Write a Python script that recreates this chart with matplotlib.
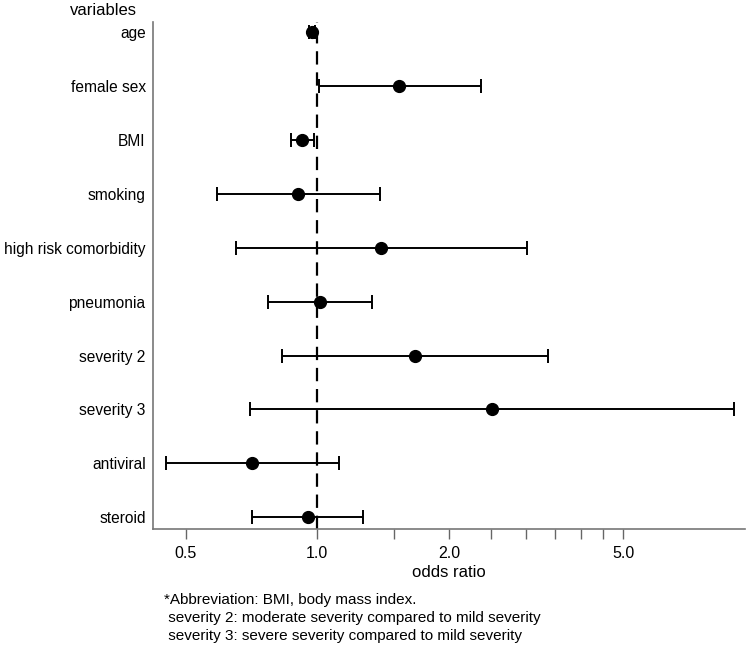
import numpy as np
import matplotlib.pyplot as plt
from matplotlib.ticker import FixedLocator, NullFormatter

plt.rcParams['font.family'] = ['Liberation Sans', 'DejaVu Sans']

variables = ["age", "female sex", "BMI", "smoking", "high risk comorbidity",
             "pneumonia", "severity 2", "severity 3", "antiviral", "steroid"]
odds = [0.97, 1.54, 0.92, 0.905, 1.40, 1.015, 1.67, 2.51, 0.71, 0.95]
ci_low = [0.955, 1.01, 0.87, 0.59, 0.65, 0.77, 0.83, 0.70, 0.45, 0.71]
ci_high = [0.99, 2.37, 0.98, 1.39, 3.02, 1.33, 3.37, 8.96, 1.12, 1.27]

major_ticks = [0.5, 1.0, 2.0, 5.0]
minor_ticks = [1.5, 2.5, 3.0, 3.5, 4.0, 4.5]

fig = plt.figure(figsize=(7.48, 6.46), dpi=100)
ax = fig.add_axes([0.204, 0.181, 0.792, 0.785])

y = np.arange(len(variables))
odds = np.array(odds)
err = [odds - np.array(ci_low), np.array(ci_high) - odds]

ax.axvline(1.0, color='k', lw=1.6, ls=(0, (6, 3.5)), zorder=1)
ax.errorbar(odds, y, xerr=err, fmt='o', color='k', ms=8.5,
            elinewidth=1.4, capsize=5, capthick=1.4, zorder=3)

ax.set_xscale('log')
ax.set_xlim(0.42, 9.5)
ax.set_ylim(len(variables) - 1 + 0.22, -0.19)
ax.xaxis.set_major_locator(FixedLocator(major_ticks))
ax.xaxis.set_minor_locator(FixedLocator(minor_ticks))
ax.xaxis.set_minor_formatter(NullFormatter())
ax.set_xticklabels(["%.1f" % t for t in major_ticks])
ax.tick_params(axis='x', which='both', length=7, width=1, color='#666666',
               labelsize=11.5, pad=5)
ax.set_yticks(y)
ax.set_yticklabels(variables)
ax.tick_params(axis='y', length=0, labelsize=11.2, pad=5)

for s in ['top', 'right']:
    ax.spines[s].set_visible(False)
for s in ['left', 'bottom']:
    ax.spines[s].set_color('#777777')
    ax.spines[s].set_linewidth(1.2)

ax.set_xlabel("odds ratio", fontsize=12, labelpad=3)
fig.text(0.094, 0.984, "variables", fontsize=12, va='center', ha='left')

fig.text(0.219, 0.071, "*Abbreviation: BMI, body mass index.", fontsize=11, va='center')
fig.text(0.219, 0.043, " severity 2: moderate severity compared to mild severity", fontsize=11, va='center')
fig.text(0.219, 0.015, " severity 3: severe severity compared to mild severity", fontsize=11, va='center')

fig.savefig("out.png", dpi=100)
